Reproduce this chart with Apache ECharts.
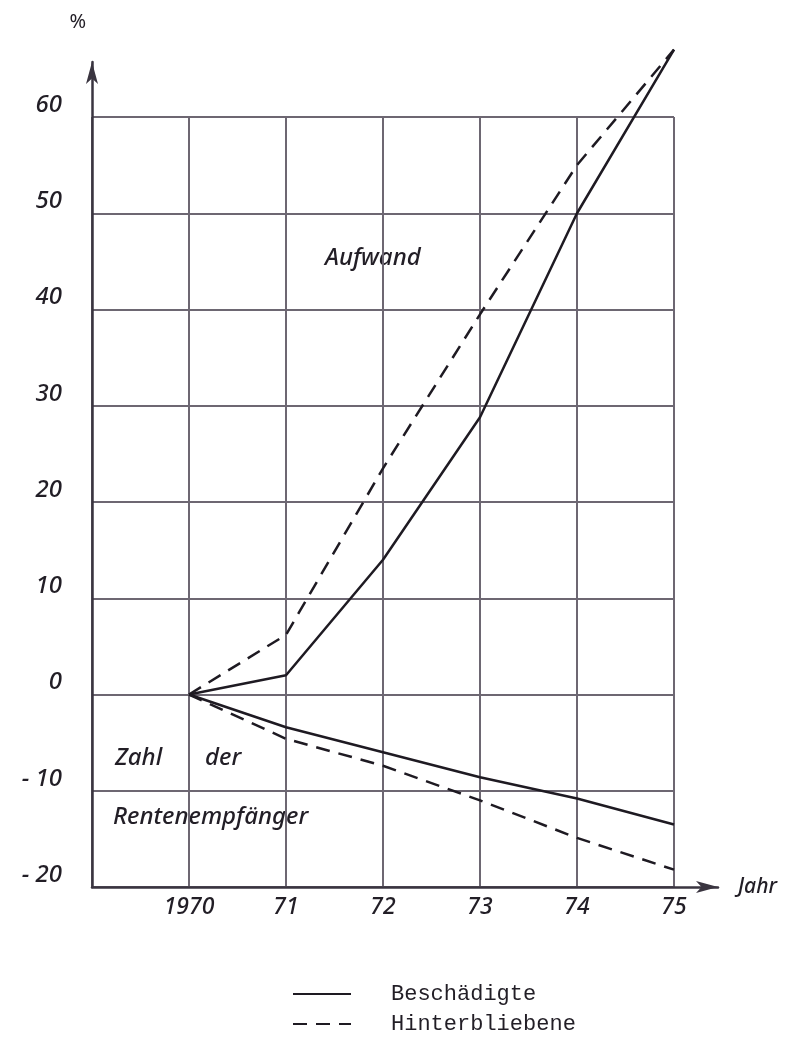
<!DOCTYPE html>
<html>
<head>
<meta charset="utf-8">
<script src="https://cdn.jsdelivr.net/npm/echarts@6/dist/echarts.min.js"></script>
<style>
  html, body { margin: 0; padding: 0; background: #fff; }
  #chart { width: 799px; height: 1050px; }
</style>
</head>
<body>
<div id="chart"></div>
<script>
  // years on the x axis and their printed labels
  var years = [1970, 1971, 1972, 1973, 1974, 1975];
  var yearLabels = ['1970', '71', '72', '73', '74', '75'];
  // percent ticks and their printed labels
  var pctTicks = [-20, -10, 0, 10, 20, 30, 40, 50, 60];
  var pctLabels = ['- 20', '- 10', '0', '10', '20', '30', '40', '50', '60'];

  // Aufwand (upper curves)
  var beschAufwand = [0, 2, 14, 28.8, 50, 67];
  var hinterAufwand = [0, 6.2, 23.5, 39.5, 55, 67];
  // Zahl der Rentenempfaenger (lower curves)
  var beschZahl = [0, -3.4, -6, -8.6, -10.8, -13.5];
  var hinterZahl = [0, -4.6, -7.4, -11, -14.9, -18.2];

  var ink = '#1e1a22';
  var txt = '#221e26';
  var gridCol = '#6d6772';
  var labelFont = '"Noto Sans"';

  function pairs(vals) {
    var out = [];
    for (var i = 0; i < years.length; i++) out.push([years[i], vals[i]]);
    return out;
  }

  function makeLine(name, vals, dashed) {
    return {
      name: name,
      type: 'line',
      xAxisIndex: 0,
      yAxisIndex: 0,
      symbol: 'none',
      showSymbol: false,
      clip: false,
      lineStyle: { color: ink, width: 2.5, type: dashed ? [14, 9] : 'solid' },
      itemStyle: { color: ink },
      data: pairs(vals)
    };
  }

  var chart = echarts.init(document.getElementById('chart'));
  var option = {
    backgroundColor: '#fff',
    animation: false,
    grid: [
      { left: 92, right: 125, top: 117, bottom: 163 },
      { left: 92, right: 81, top: 62, bottom: 163 }
    ],
    xAxis: [
      {
        gridIndex: 0, type: 'value', min: 1969, max: 1975, interval: 1,
        axisLine: { show: false }, axisTick: { show: false },
        splitLine: { show: true, lineStyle: { color: gridCol, width: 2 } },
        axisLabel: {
          margin: 9,
          fontFamily: labelFont, fontStyle: 'italic', fontWeight: 500, fontSize: 23, color: txt,
          formatter: function (v) {
            var i = years.indexOf(Math.round(v));
            return i < 0 ? '' : yearLabels[i];
          }
        }
      },
      {
        gridIndex: 1, type: 'value', min: 0, max: 1,
        axisLine: { show: true, symbol: ['none', 'arrow'], symbolSize: [9, 22],
          lineStyle: { color: '#3a3540', width: 2.5 } },
        axisTick: { show: false }, axisLabel: { show: false }, splitLine: { show: false },
        name: 'Jahr', nameLocation: 'end', nameGap: 20,
        nameTextStyle: { fontFamily: labelFont, fontStyle: 'italic', fontWeight: 500, fontSize: 21, color: txt }
      }
    ],
    yAxis: [
      {
        gridIndex: 0, type: 'value', min: -20, max: 60, interval: 10,
        axisLine: { show: false }, axisTick: { show: false },
        splitLine: { show: true, lineStyle: { color: gridCol, width: 2 } },
        axisLabel: {
          margin: 30, verticalAlign: 'bottom',
          fontFamily: labelFont, fontStyle: 'italic', fontWeight: 500, fontSize: 24, color: txt,
          formatter: function (v) {
            var i = pctTicks.indexOf(Math.round(v));
            return i < 0 ? '' : pctLabels[i];
          }
        }
      },
      {
        gridIndex: 1, type: 'value', min: 0, max: 1,
        axisLine: { show: true, symbol: ['none', 'arrow'], symbolSize: [9, 22],
          lineStyle: { color: '#3a3540', width: 2.5 } },
        axisTick: { show: false }, axisLabel: { show: false }, splitLine: { show: false },
        name: '%', nameLocation: 'end', nameGap: 30,
        nameTextStyle: { fontFamily: labelFont, fontSize: 20, color: txt,
          align: 'right', padding: [0, 6, 0, 0] }
      }
    ],
    legend: {
      data: ['Beschädigte', 'Hinterbliebene'],
      orient: 'vertical',
      left: 287, top: 978,
      itemWidth: 58, itemHeight: 14, itemGap: 8,
      itemStyle: { opacity: 0 },
      textStyle: { fontFamily: '"Liberation Mono"', fontSize: 22, color: txt,
        padding: [0, 0, 0, 35] }
    },
    graphic: [
      { type: 'text', left: 325, top: 246,
        style: { text: 'Aufwand', font: 'italic 500 24px "Noto Sans"', fill: txt } },
      { type: 'text', left: 115, top: 746,
        style: { text: 'Zahl', font: 'italic 500 24px "Noto Sans"', fill: txt } },
      { type: 'text', left: 205, top: 746,
        style: { text: 'der', font: 'italic 500 24px "Noto Sans"', fill: txt } },
      { type: 'text', left: 113, top: 805,
        style: { text: 'Rentenempfänger', font: 'italic 500 24px "Noto Sans"', fill: txt } }
    ],
    series: [
      makeLine('Beschädigte', beschAufwand, false),
      makeLine('Hinterbliebene', hinterAufwand, true),
      makeLine('Beschädigte', beschZahl, false),
      makeLine('Hinterbliebene', hinterZahl, true)
    ]
  };
  chart.setOption(option);
</script>
</body>
</html>
